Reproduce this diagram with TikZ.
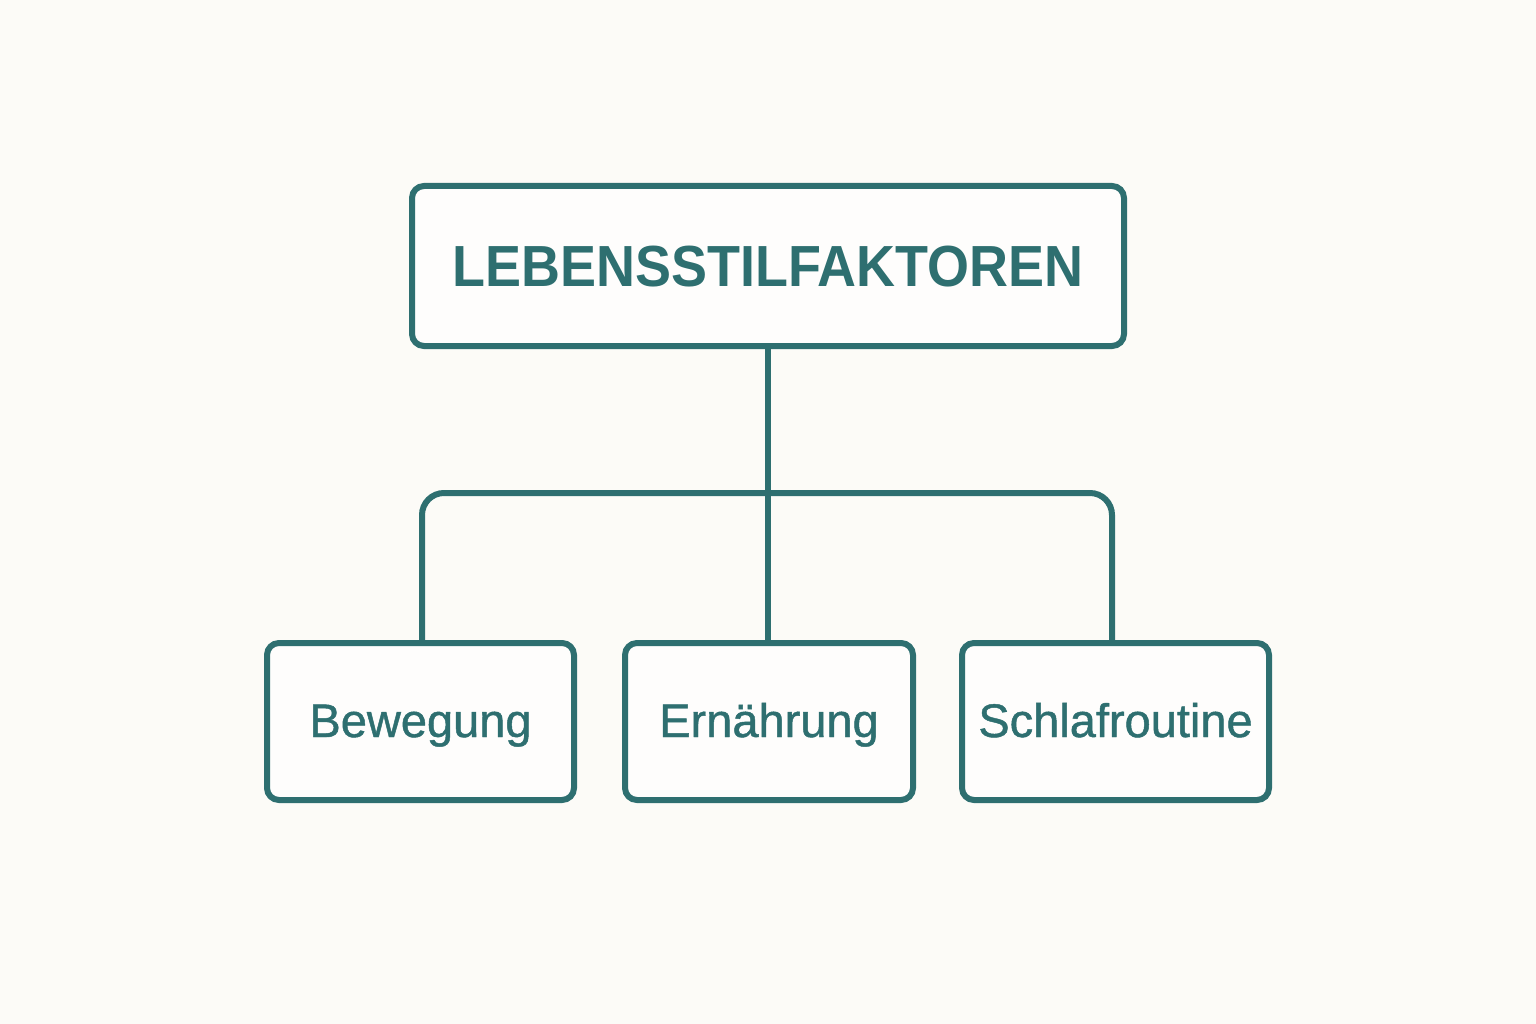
\documentclass[tikz,border=0pt]{standalone}
\usepackage{fontspec}
\setmainfont{Liberation Sans}
\definecolor{teal1}{RGB}{46,111,112}
\definecolor{bg}{RGB}{252,251,247}
\begin{document}
\begin{tikzpicture}[x=1pt,y=-1pt,
  box/.style={draw=teal1, line width=6pt, rounded corners=12pt, fill=white!60!bg, text=teal1, inner sep=0pt, align=center},
  topbox/.style={box, minimum width=712pt, minimum height=160pt, text height=42pt, text depth=0pt, font=\fontsize{58}{60}\selectfont\bfseries},
  leafbox/.style={box, minimum width=307pt, minimum height=157pt, text height=34pt, text depth=3pt, font=\fontsize{47}{50}\selectfont\addfontfeature{FakeBold=1}},
  conn/.style={draw=teal1, line width=6pt}]
\fill[bg] (0,0) rectangle (1536,1024);
\useasboundingbox (0,0) rectangle (1536,1024);
\node[topbox] (top) at (768,266) {\scalebox{0.93}[1]{LEBENSSTILFAKTOREN}};
\node[leafbox] (bew) at (420.5,721.5) {Bewegung};
\node[leafbox, minimum width=288pt] (ern) at (769,721.5) {Ernährung};
\node[leafbox] (sch) at (1115.5,721.5) {Schlafroutine};
\coordinate (bl) at (422,493);
\coordinate (br) at (1112,493);
\draw[conn] (top.south) -- (top.south |- ern.north);
\draw[conn, rounded corners=22pt] (bl |- bew.north) -- (bl) -- (br) -- (br |- sch.north);
\end{tikzpicture}
\end{document}
